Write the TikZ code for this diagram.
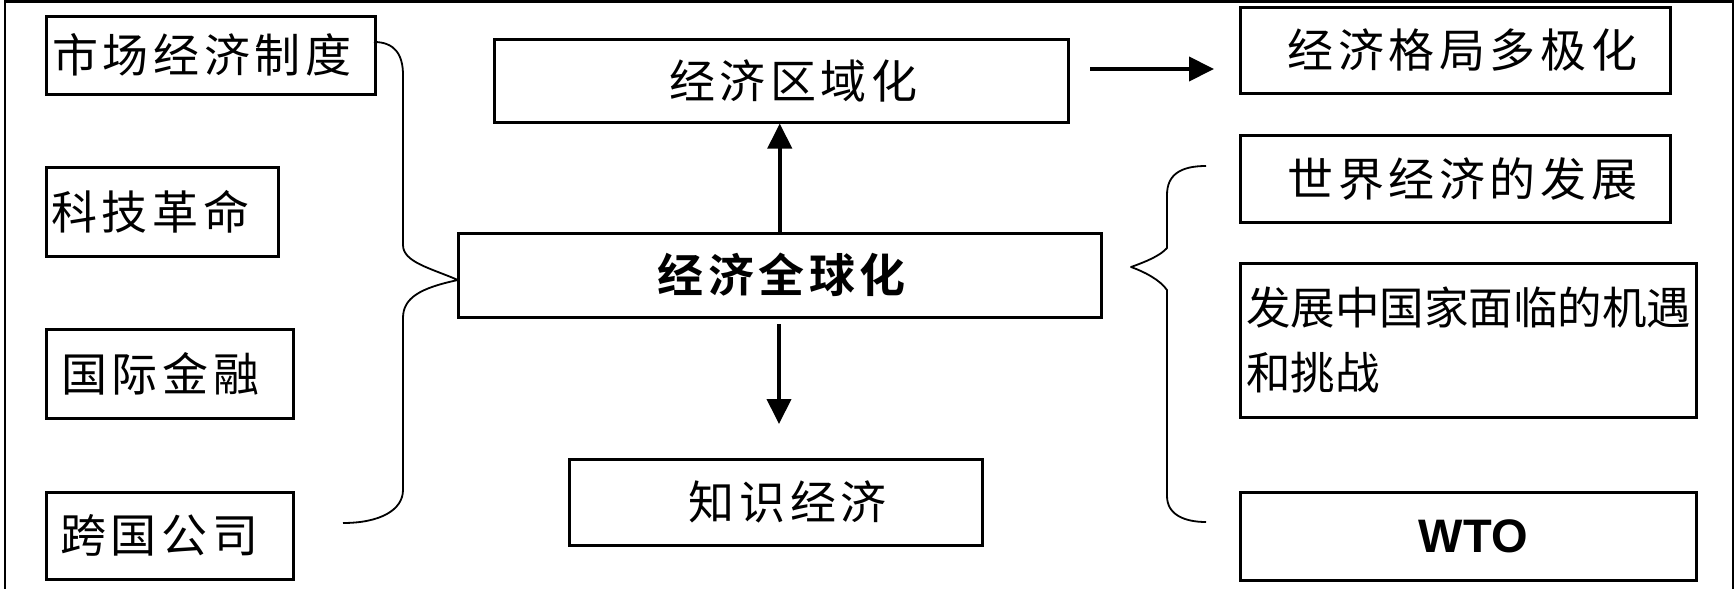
\documentclass[tikz,border=0pt]{standalone}
\usepackage{fontspec}
\setmainfont{Liberation Sans}
\newfontfamily\cjk[LetterSpace=10]{Noto Sans CJK SC}
\newfontfamily\cjkt{Noto Sans CJK SC}
\newfontfamily\cjkb[LetterSpace=10]{Noto Sans CJK SC Bold}
\usetikzlibrary{arrows.meta}
\begin{document}
\begin{tikzpicture}[x=1pt,y=-1pt,
  box/.style={draw, line width=2.5pt, anchor=north west, inner ysep=0pt,
    font=\cjk\fontsize{46pt}{52pt}\selectfont},
  arr/.style={line width=4pt, -{Triangle[length=25pt,width=24pt]}},
  brace/.style={line width=1.8pt, line join=round},
  frame/.style={line width=2.5pt}]
\useasboundingbox (0,0) rectangle (1735,589);
\draw[frame] (5,595) -- (5,1.5) -- (1733,1.5) -- (1733,595);
% left column
\node[box, inner xsep=6pt, text width=317pt, minimum height=78pt, align=left] (market) at (45,15) {市场经济制度};
\node[box, inner xsep=5pt, text width=222pt, minimum height=89pt, align=left] (tech) at (45,166) {科技革命};
\node[box, inner xsep=15pt, text width=217pt, minimum height=89pt, align=left] (fin) at (45,328) {国际金融};
\node[box, inner xsep=14pt, text width=219pt, minimum height=87pt, align=left] (multi) at (45,491) {跨国公司};
% centre column
\node[box, inner xsep=8pt, text width=558pt, minimum height=83pt, align=center] (region) at (493,38) {\hspace*{24pt}经济区域化};
\node[box, inner xsep=8pt, text width=627pt, minimum height=84pt, align=center, font=\cjkb\fontsize{46pt}{52pt}\selectfont] (glob) at (457,232) {\hspace*{4pt}经济全球化};
\node[box, inner xsep=8pt, text width=397pt, minimum height=86pt, align=center] (know) at (568,458) {\hspace*{24pt}知识经济};
% right column
\node[box, inner xsep=8pt, text width=414pt, minimum height=86pt, align=center] (pole) at (1239,6) {\hspace*{14pt}经济格局多极化};
\node[box, inner xsep=8pt, text width=414pt, minimum height=87pt, align=center] (world) at (1239,134) {\hspace*{14pt}世界经济的发展};
\node[box, inner xsep=6pt, text width=444pt, minimum height=154pt, align=left, font=\cjkt\fontsize{44.5pt}{65pt}\selectfont] (devc) at (1239,262) {发展中国家面临的机遇\\和挑战};
\node[box, inner xsep=8pt, text width=440pt, minimum height=88pt, align=center, font=\fontsize{47pt}{52pt}\bfseries\selectfont] (wto) at (1239,491) {\hspace*{10pt}WTO};
% arrows
\draw[arr] (glob.north) -- (glob.north |- region.south);
\coordinate (d1) at (779,324);
\coordinate (d2) at (779,424);
\draw[arr] (d1) -- (d2);
\coordinate (r1) at (1090,69);
\coordinate (r2) at (1214,69);
\draw[arr] (r1) -- (r2);
% left brace
\coordinate (ltip) at (458,280);
\draw[brace] (374,42) .. controls (395,42) and (403,55) .. (403,75) -- (403,245)
  .. controls (403,262) and (430,268) .. (ltip)
  .. controls (420,288) and (403,298) .. (403,318) -- (403,490)
  .. controls (403,510) and (380,523) .. (343,523);
% right brace
\coordinate (rtip) at (1131,267);
\draw[brace] (1206,166) .. controls (1180,166) and (1167,175) .. (1167,195) -- (1167,248)
  .. controls (1160,256) and (1145,262) .. (rtip)
  .. controls (1145,272) and (1160,280) .. (1167,290) -- (1167,496)
  .. controls (1167,515) and (1185,522) .. (1206,522);
\end{tikzpicture}
\end{document}
